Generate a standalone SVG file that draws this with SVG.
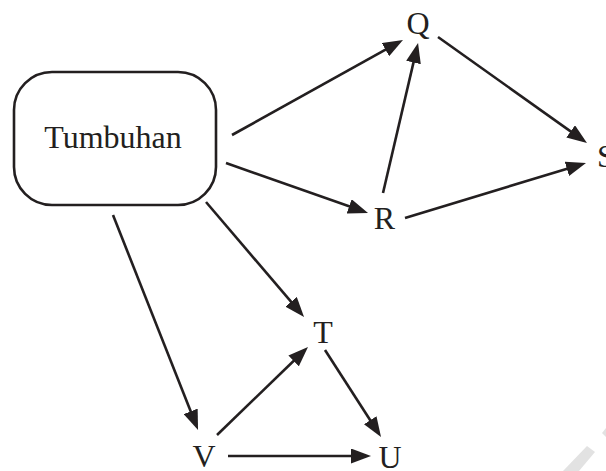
<svg xmlns="http://www.w3.org/2000/svg" width="606" height="471" viewBox="0 0 606 471">
<style>
.lbl{font-family:"Liberation Serif","Times New Roman",serif;font-size:32px;fill:#231f20}
.edge{stroke:#231f20;stroke-width:2.6;fill:none;marker-end:url(#ah)}
</style>
<defs>
<marker id="ah" markerUnits="userSpaceOnUse" markerWidth="20" markerHeight="15" refX="15" refY="7.5" orient="auto">
<path d="M0,0 L20,7.5 L0,15 z" fill="#231f20"/>
</marker>
</defs>
<rect width="606" height="471" fill="#ffffff"/>
<polygon points="563,471 587,446 595,452 579,471" fill="#e2e2e2"/>
<polygon points="602,433 606,428 606,437" fill="#e2e2e2"/>
<g id="connectors">
<line class="edge" x1="232" y1="135" x2="398.6" y2="42.4"/>
<line class="edge" x1="226" y1="163" x2="363.3" y2="211.3"/>
<line class="edge" x1="206" y1="202" x2="300.8" y2="313.2"/>
<line class="edge" x1="113" y1="215" x2="196.2" y2="425.3"/>
<line class="edge" x1="383" y1="193" x2="416.9" y2="47.9"/>
<line class="edge" x1="438" y1="37" x2="582.9" y2="140.1"/>
<line class="edge" x1="405" y1="218" x2="581.2" y2="164.5"/>
<line class="edge" x1="217" y1="435" x2="304.4" y2="350.5"/>
<line class="edge" x1="325" y1="350" x2="378.3" y2="432.8"/>
<line class="edge" x1="228" y1="456" x2="366" y2="456"/>
</g>
<g id="tumbuhan">
<rect x="14" y="72" width="202" height="133" rx="38" ry="38" fill="#ffffff" stroke="#231f20" stroke-width="2.6"/>
<text class="lbl" x="113" y="148" text-anchor="middle">Tumbuhan</text>
</g>
<g id="Q"><text class="lbl" x="418" y="34" text-anchor="middle">Q</text></g>
<g id="R"><text class="lbl" x="384.5" y="229" text-anchor="middle">R</text></g>
<g id="S"><text class="lbl" x="597" y="167">S</text></g>
<g id="T"><text class="lbl" x="323" y="343" text-anchor="middle">T</text></g>
<g id="U"><text class="lbl" x="390" y="468" text-anchor="middle">U</text></g>
<g id="V"><text class="lbl" x="204" y="467" text-anchor="middle">V</text></g>
</svg>
